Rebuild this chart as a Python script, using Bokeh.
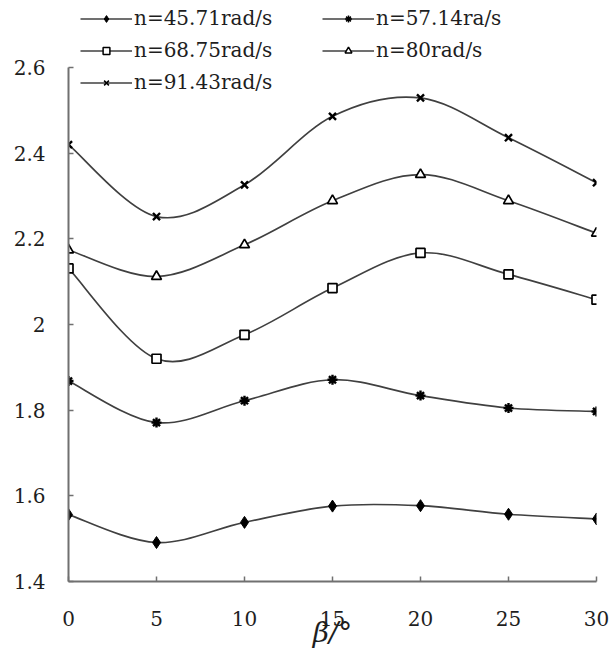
import numpy as np
from bokeh.plotting import figure
from bokeh.models import Legend, LegendItem, Range1d, FixedTicker, CustomJSTickFormatter
from bokeh.embed import file_html
from bokeh.resources import INLINE

# ---- data ----
beta = [0, 5, 10, 15, 20, 25, 30]
n_45_71 = [1.556, 1.491, 1.538, 1.576, 1.577, 1.557, 1.546]
n_57_14 = [1.868, 1.771, 1.822, 1.871, 1.834, 1.805, 1.797]
n_68_75 = [2.131, 1.920, 1.976, 2.085, 2.167, 2.117, 2.058]
n_80_00 = [2.174, 2.112, 2.186, 2.289, 2.350, 2.289, 2.213]
n_91_43 = [2.420, 2.252, 2.326, 2.486, 2.529, 2.436, 2.331]
series_labels = ["n=45.71rad/s", "n=57.14ra/s", "n=68.75rad/s", "n=80rad/s", "n=91.43rad/s"]
y_ticks = [1.4, 1.6, 1.8, 2.0, 2.2, 2.4, 2.6]
x_ticks = [0, 5, 10, 15, 20, 25, 30]
x_label = "β/°"

SERIF = "DejaVu Serif"
LINE_C = "#404040"
AXIS_C = "#707070"
TEXT_C = "#1e1e1e"

p = figure(width=611, height=654, output_backend="svg", toolbar_location=None,
           x_range=Range1d(0, 30), y_range=Range1d(1.4, 2.7564),
           min_border_left=68, min_border_right=15, min_border_top=0,
           min_border_bottom=73)
p.outline_line_color = None
p.grid.visible = False
p.background_fill_color = "white"

for ax in (p.xaxis[0], p.yaxis[0]):
    ax.axis_line_color = AXIS_C
    ax.axis_line_width = 2
    ax.major_tick_in = 5
    ax.major_tick_out = 0
    ax.major_tick_line_color = AXIS_C
    ax.major_tick_line_width = 1.5
    ax.minor_tick_line_color = None
    ax.major_label_text_font = SERIF
    ax.major_label_text_font_size = "20px"
    ax.major_label_text_color = TEXT_C

p.yaxis.ticker = FixedTicker(ticks=y_ticks)
p.xaxis.ticker = FixedTicker(ticks=x_ticks)
p.yaxis.formatter = CustomJSTickFormatter(code="return (Math.round(tick*10)/10).toString();")
p.yaxis.bounds = (1.4, 2.6)
p.yaxis.major_label_standoff = 23
p.xaxis.major_label_standoff = 29
p.xaxis.axis_label = x_label
p.xaxis.axis_label_text_font = SERIF
p.xaxis.axis_label_text_font_style = "italic"
p.xaxis.axis_label_text_font_size = "28px"
p.xaxis.axis_label_text_color = TEXT_C
p.xaxis.axis_label_standoff = -13


def bezier_ctrl(xs, ys):
    x = np.asarray(xs, float)
    y = np.asarray(ys, float)
    n = len(x)
    xp = np.concatenate([[x[0]], x, [x[-1]]])
    yp = np.concatenate([[y[0]], y, [y[-1]]])
    cx0 = x[:-1] + (xp[2:n + 1] - xp[0:n - 1]) / 6.0
    cy0 = y[:-1] + (yp[2:n + 1] - yp[0:n - 1]) / 6.0
    cx1 = x[1:] - (xp[3:n + 2] - xp[1:n]) / 6.0
    cy1 = y[1:] - (yp[3:n + 2] - yp[1:n]) / 6.0
    return dict(x0=x[:-1], y0=y[:-1], x1=x[1:], y1=y[1:],
                cx0=cx0, cy0=cy0, cx1=cx1, cy1=cy1)


styles = [
    dict(marker="diamond", size=12, fill_color="black", line_color="black", line_width=1),
    dict(marker="asterisk", size=10, fill_color="black", line_color="black", line_width=2.4),
    dict(marker="square", size=9, fill_color="white", line_color="black", line_width=1.7),
    dict(marker="triangle", size=10, fill_color="white", line_color="black", line_width=1.7),
    dict(marker="x", size=10, fill_color="black", line_color="black", line_width=2.4),
]
all_series = [n_45_71, n_57_14, n_68_75, n_80_00, n_91_43]

items = []
for ys, st, lab in zip(all_series, styles, series_labels):
    p.bezier(**bezier_ctrl(beta, ys), line_color=LINE_C, line_width=1.7)
    p.scatter(beta, ys, marker=st["marker"], size=st["size"], fill_color=st["fill_color"],
              line_color=st["line_color"], line_width=st["line_width"])
    # legend-only renderers (hidden in the plot, drawn only as legend swatches)
    lr = p.line(beta, ys, line_color=LINE_C, line_width=1.7, visible=False)
    sr = p.scatter(beta, ys, marker=st["marker"], fill_color=st["fill_color"],
                   line_color=st["line_color"], line_width=min(st["line_width"], 1.5),
                   visible=False)
    items.append(LegendItem(label=lab, renderers=[lr, sr]))


def make_legend(its, loc):
    lg = Legend(items=its, location=loc, orientation="vertical",
                glyph_width=52, glyph_height=17, label_height=32, spacing=0,
                padding=0, margin=0, label_standoff=2,
                label_text_font=SERIF, label_text_font_size="20px",
                label_text_color=TEXT_C,
                inactive_fill_alpha=0,
                background_fill_alpha=0, border_line_color=None)
    return lg

leg1 = make_legend([items[0], items[2], items[4]], (12, 483))
leg2 = make_legend([items[1], items[3]], (254, 515))
p.add_layout(leg1, "center")
p.add_layout(leg2, "center")

open("out.html", "w").write(file_html(p, INLINE))
